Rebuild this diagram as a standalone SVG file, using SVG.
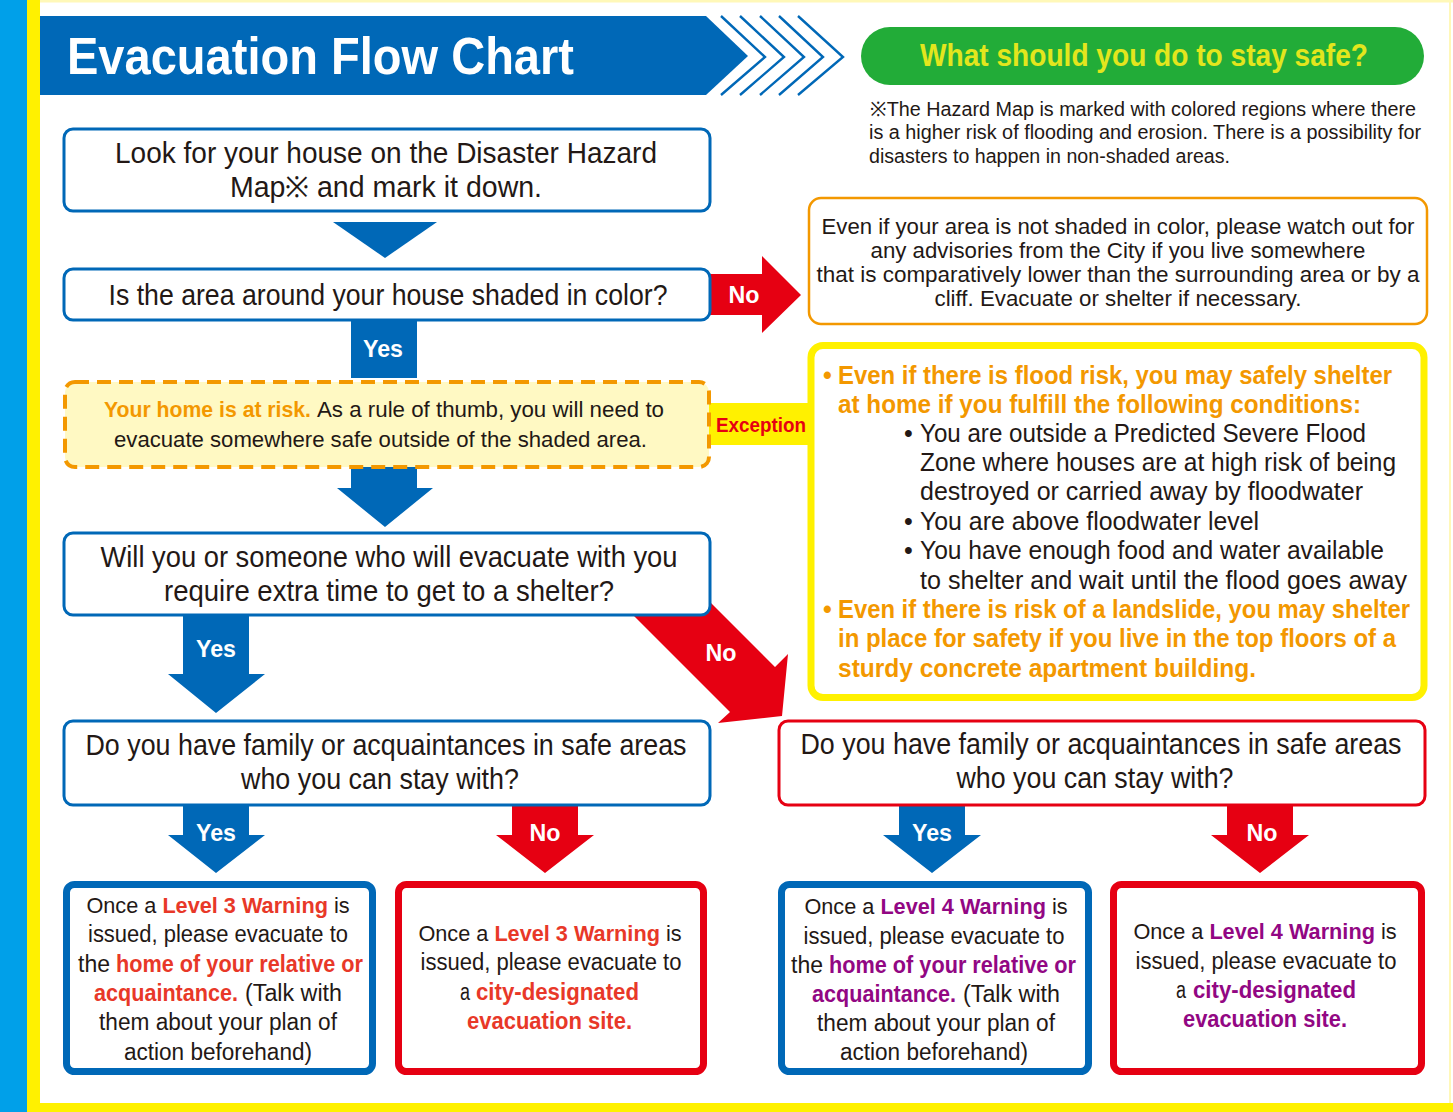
<svg xmlns="http://www.w3.org/2000/svg" width="1453" height="1112" viewBox="0 0 1453 1112">
<style>
text{font-family:"Liberation Sans",Arial,sans-serif;fill:#231815}
.b{font-weight:bold}
.w{fill:#fff;font-weight:bold;font-size:24px}
.box{fill:#fff;stroke:#0068b7;stroke-width:3}
.rbox{fill:#fff;stroke:#e60012;stroke-width:3}
.q{font-size:29px}
.m{text-anchor:middle}
.blue{fill:#0068b7}
.red{fill:#e60012}
.rt{fill:#e83828;font-weight:bold}
.pt{fill:#920783;font-weight:bold}
.ot{fill:#f39800;font-weight:bold}
.s23{font-size:23px}
.s22{font-size:21.7px}
.s25{font-size:25px}
.chev{fill:none;stroke:#0068b7;stroke-width:2.4}
</style>
<rect width="1453" height="1112" fill="#fff"/>
<rect x="0" y="0" width="27" height="1112" fill="#00a0e9"/>
<rect x="27" y="0" width="13" height="1112" fill="#fff100"/>
<rect x="27" y="1103" width="1426" height="9" fill="#fff100"/>
<rect x="40" y="0" width="1413" height="2.5" fill="#fff8b8"/>
<rect x="1449" y="0" width="2" height="1103" fill="#fff8b8"/>

<g id="header">
<polygon points="40,16 706,16 748,56 706,95 40,95" fill="#0068b7"/>
<polyline class="chev" points="721,16 765,57 721,95"/>
<polyline class="chev" points="740,16 784,57 740,95"/>
<polyline class="chev" points="760,16 804,57 760,95"/>
<polyline class="chev" points="779,16 823,57 779,95"/>
<polyline class="chev" points="798,16 843,57 798,95"/>
<text x="67" y="74" class="b" font-size="52" style="fill:#fff" textLength="507" lengthAdjust="spacingAndGlyphs">Evacuation Flow Chart</text>
</g>

<g id="safe-title">
<rect x="861" y="27" width="563" height="58" rx="29" fill="#22ac38"/>
<text x="1144" y="66" class="b m" font-size="32" style="fill:#e3e61d" textLength="448" lengthAdjust="spacingAndGlyphs">What should you do to stay safe?</text>
</g>

<g id="note">
<text x="870" y="116" font-size="20" textLength="546" lengthAdjust="spacingAndGlyphs">※The Hazard Map is marked with colored regions where there</text>
<text x="869" y="139" font-size="20" textLength="552" lengthAdjust="spacingAndGlyphs">is a higher risk of flooding and erosion. There is a possibility for</text>
<text x="869" y="163" font-size="20" textLength="361" lengthAdjust="spacingAndGlyphs">disasters to happen in non-shaded areas.</text>
</g>

<g id="connectors">
<polygon class="blue" points="333,222 437,222 385,258"/>
<rect class="blue" x="351" y="318" width="66" height="60"/>
<text class="w m" x="383" y="357" textLength="40" lengthAdjust="spacingAndGlyphs">Yes</text>
<polygon class="red" points="708,274 762,274 762,256 801,295 762,333 762,315 708,315"/>
<text class="w m" x="744" y="303" textLength="31" lengthAdjust="spacingAndGlyphs">No</text>
<rect x="708" y="403" width="102" height="42" fill="#fff100"/>
<text x="761" y="432" class="b m" font-size="20" style="fill:#e60012" textLength="90" lengthAdjust="spacingAndGlyphs">Exception</text>
<polygon class="blue" points="351,465 417,465 417,488 433,488 385,527 337,488 351,488"/>
<polygon class="blue" points="183,613 249,613 249,674 265,674 216,713 168,674 183,674"/>
<text class="w m" x="216" y="657" textLength="40" lengthAdjust="spacingAndGlyphs">Yes</text>
<polygon class="red" points="700,592 775,667 788,654 782,716 718,723 730,712 625,607"/>
<text class="w m" x="721" y="661" textLength="31" lengthAdjust="spacingAndGlyphs">No</text>
<polygon class="blue" points="183,803 249,803 249,835 265,835 216,873 168,835 183,835"/>
<text class="w m" x="216" y="841" textLength="40" lengthAdjust="spacingAndGlyphs">Yes</text>
<polygon class="red" points="512,803 578,803 578,835 594,835 545,873 496,835 512,835"/>
<text class="w m" x="545" y="841" textLength="31" lengthAdjust="spacingAndGlyphs">No</text>
<polygon class="blue" points="899,803 965,803 965,835 981,835 932,873 883,835 899,835"/>
<text class="w m" x="932" y="841" textLength="40" lengthAdjust="spacingAndGlyphs">Yes</text>
<polygon class="red" points="1227,803 1293,803 1293,835 1309,835 1260,873 1211,835 1227,835"/>
<text class="w m" x="1262" y="841" textLength="31" lengthAdjust="spacingAndGlyphs">No</text>
</g>

<g id="step-find-house">
<rect class="box" x="64" y="129" width="646" height="82" rx="9"/>
<text class="q m" x="386" y="163" textLength="542" lengthAdjust="spacingAndGlyphs">Look for your house on the Disaster Hazard</text>
<text class="q m" x="386" y="197" textLength="312" lengthAdjust="spacingAndGlyphs">Map※ and mark it down.</text>
</g>

<g id="q-shaded">
<rect class="box" x="64" y="269" width="646" height="51" rx="9"/>
<text class="q m" x="388" y="305" textLength="559" lengthAdjust="spacingAndGlyphs">Is the area around your house shaded in color?</text>
</g>

<g id="not-shaded">
<rect x="809" y="198" width="618" height="126" rx="12" fill="#fff" stroke="#f39800" stroke-width="2.5"/>
<text class="m" font-size="22" x="1118" y="234" textLength="593" lengthAdjust="spacingAndGlyphs">Even if your area is not shaded in color, please watch out for</text>
<text class="m" font-size="22" x="1118" y="258" textLength="495" lengthAdjust="spacingAndGlyphs">any advisories from the City if you live somewhere</text>
<text class="m" font-size="22" x="1118" y="282" textLength="603" lengthAdjust="spacingAndGlyphs">that is comparatively lower than the surrounding area or by a</text>
<text class="m" font-size="22" x="1118" y="306" textLength="367" lengthAdjust="spacingAndGlyphs">cliff. Evacuate or shelter if necessary.</text>
</g>

<g id="at-risk">
<rect x="65" y="382" width="644" height="85" rx="10" fill="#fff9c3" stroke="#f39800" stroke-width="4" stroke-dasharray="14 8"/>
<text class="ot" font-size="22" x="104" y="417" textLength="207" lengthAdjust="spacingAndGlyphs">Your home is at risk.</text>
<text font-size="22" x="317" y="417" textLength="347" lengthAdjust="spacingAndGlyphs">As a rule of thumb, you will need to</text>
<text font-size="22" x="114" y="447" textLength="533" lengthAdjust="spacingAndGlyphs">evacuate somewhere safe outside of the shaded area.</text>
</g>

<g id="exception">
<rect x="811" y="345.5" width="613" height="352" rx="12" fill="#fff" stroke="#fff100" stroke-width="7"/>
<text class="ot s25" x="823" y="384">•</text>
<text class="ot s25" x="838" y="384" textLength="554" lengthAdjust="spacingAndGlyphs">Even if there is flood risk, you may safely shelter</text>
<text class="ot s25" x="838" y="413" textLength="523" lengthAdjust="spacingAndGlyphs">at home if you fulfill the following conditions:</text>
<text class="s25" x="904" y="442">•</text>
<text class="s25" x="920" y="442" textLength="446" lengthAdjust="spacingAndGlyphs">You are outside a Predicted Severe Flood</text>
<text class="s25" x="920" y="471" textLength="476" lengthAdjust="spacingAndGlyphs">Zone where houses are at high risk of being</text>
<text class="s25" x="920" y="500" textLength="443" lengthAdjust="spacingAndGlyphs">destroyed or carried away by floodwater</text>
<text class="s25" x="904" y="530">•</text>
<text class="s25" x="920" y="530" textLength="339" lengthAdjust="spacingAndGlyphs">You are above floodwater level</text>
<text class="s25" x="904" y="559">•</text>
<text class="s25" x="920" y="559" textLength="464" lengthAdjust="spacingAndGlyphs">You have enough food and water available</text>
<text class="s25" x="920" y="589" textLength="487" lengthAdjust="spacingAndGlyphs">to shelter and wait until the flood goes away</text>
<text class="ot s25" x="823" y="618">•</text>
<text class="ot s25" x="838" y="618" textLength="572" lengthAdjust="spacingAndGlyphs">Even if there is risk of a landslide, you may shelter</text>
<text class="ot s25" x="838" y="647" textLength="558" lengthAdjust="spacingAndGlyphs">in place for safety if you live in the top floors of a</text>
<text class="ot s25" x="838" y="677" textLength="418" lengthAdjust="spacingAndGlyphs">sturdy  concrete apartment building.</text>
</g>

<g id="q-extra-time">
<rect class="box" x="64" y="533" width="646" height="82" rx="9"/>
<text class="q m" x="389" y="567" textLength="577" lengthAdjust="spacingAndGlyphs">Will you or someone who will evacuate with you</text>
<text class="q m" x="389" y="601" textLength="450" lengthAdjust="spacingAndGlyphs">require extra time to get to a shelter?</text>
</g>

<g id="q-family-left">
<rect class="box" x="64" y="721" width="646" height="84" rx="9"/>
<text class="q m" x="386" y="755" textLength="601" lengthAdjust="spacingAndGlyphs">Do you have family or acquaintances in safe areas</text>
<text class="q m" x="380" y="789" textLength="278" lengthAdjust="spacingAndGlyphs">who you can stay with?</text>
</g>

<g id="q-family-right">
<rect class="rbox" x="779" y="721" width="646" height="84" rx="9"/>
<text class="q m" x="1101" y="754" textLength="601" lengthAdjust="spacingAndGlyphs">Do you have family or acquaintances in safe areas</text>
<text class="q m" x="1095" y="788" textLength="277" lengthAdjust="spacingAndGlyphs">who you can stay with?</text>
</g>

<g id="l3-relative">
<rect x="66.5" y="884.5" width="306" height="187" rx="8" fill="#fff" stroke="#0068b7" stroke-width="7"/>
<text class="s22 m" x="218" y="913">Once a <tspan class="rt">Level 3 Warning</tspan> is</text>
<text class="s23 m" x="218" y="942" textLength="260" lengthAdjust="spacingAndGlyphs">issued, please evacuate to</text>
<text class="s23" x="78" y="972" textLength="32" lengthAdjust="spacingAndGlyphs">the</text>
<text class="s23 rt" x="116" y="972" textLength="247" lengthAdjust="spacingAndGlyphs">home of your relative or</text>
<text class="s23 rt" x="94" y="1001" textLength="144" lengthAdjust="spacingAndGlyphs">acquaintance.</text>
<text class="s23" x="245" y="1001" textLength="97" lengthAdjust="spacingAndGlyphs">(Talk with</text>
<text class="s23 m" x="218" y="1030" textLength="238" lengthAdjust="spacingAndGlyphs">them about your plan of</text>
<text class="s23 m" x="218" y="1060" textLength="188" lengthAdjust="spacingAndGlyphs">action beforehand)</text>
</g>

<g id="l3-site">
<rect x="398.5" y="884.5" width="305" height="187" rx="8" fill="#fff" stroke="#e60012" stroke-width="7"/>
<text class="s22 m" x="550" y="941">Once a <tspan class="rt">Level 3 Warning</tspan> is</text>
<text class="s23 m" x="551" y="970" textLength="261" lengthAdjust="spacingAndGlyphs">issued, please evacuate to</text>
<text class="s23" x="460" y="1000" textLength="10" lengthAdjust="spacingAndGlyphs">a</text>
<text class="s23 rt" x="476" y="1000" textLength="163" lengthAdjust="spacingAndGlyphs">city-designated</text>
<text class="s23 rt" x="467" y="1029" textLength="165" lengthAdjust="spacingAndGlyphs">evacuation site.</text>
</g>

<g id="l4-relative">
<rect x="781.5" y="884.5" width="307" height="187" rx="8" fill="#fff" stroke="#0068b7" stroke-width="7"/>
<text class="s22 m" x="936" y="914">Once a <tspan class="pt">Level 4 Warning</tspan> is</text>
<text class="s23 m" x="934" y="944" textLength="261" lengthAdjust="spacingAndGlyphs">issued, please evacuate to</text>
<text class="s23" x="791" y="973" textLength="32" lengthAdjust="spacingAndGlyphs">the</text>
<text class="s23 pt" x="829" y="973" textLength="247" lengthAdjust="spacingAndGlyphs">home of your relative or</text>
<text class="s23 pt" x="812" y="1002" textLength="144" lengthAdjust="spacingAndGlyphs">acquaintance.</text>
<text class="s23" x="963" y="1002" textLength="97" lengthAdjust="spacingAndGlyphs">(Talk with</text>
<text class="s23 m" x="936" y="1031" textLength="238" lengthAdjust="spacingAndGlyphs">them about your plan of</text>
<text class="s23 m" x="934" y="1060" textLength="188" lengthAdjust="spacingAndGlyphs">action beforehand)</text>
</g>

<g id="l4-site">
<rect x="1113.5" y="884.5" width="308" height="187" rx="8" fill="#fff" stroke="#e60012" stroke-width="7"/>
<text class="s22 m" x="1265" y="939">Once a <tspan class="pt">Level 4 Warning</tspan> is</text>
<text class="s23 m" x="1266" y="969" textLength="261" lengthAdjust="spacingAndGlyphs">issued, please evacuate to</text>
<text class="s23" x="1176" y="998" textLength="10" lengthAdjust="spacingAndGlyphs">a</text>
<text class="s23 pt" x="1193" y="998" textLength="163" lengthAdjust="spacingAndGlyphs">city-designated</text>
<text class="s23 pt" x="1183" y="1027" textLength="164" lengthAdjust="spacingAndGlyphs">evacuation site.</text>
</g>
</svg>
